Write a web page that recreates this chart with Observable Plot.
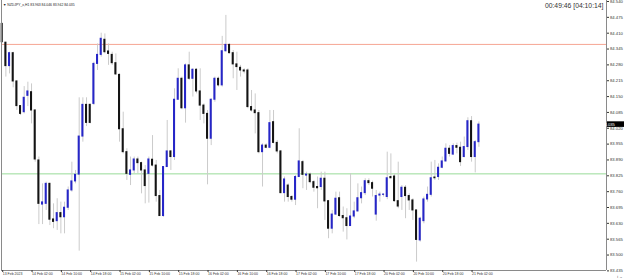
<!DOCTYPE html>
<html><head><meta charset="utf-8">
<script src="https://cdn.jsdelivr.net/npm/d3@7"></script>
<script src="https://cdn.jsdelivr.net/npm/@observablehq/plot@0.6"></script>
<style>
html,body{margin:0;padding:0;background:#fff;}
#chart{width:625px;height:280px;overflow:hidden;}
</style></head><body><div id="chart"></div>
<script>
const symbolTitle = "NZDJPY_x,H1";
const timerText = "00:49:46 [04:10:14]";
const open  = [84.448,84.371,84.275,84.328,84.212,84.111,84.086,84.153,84.168,84.093,83.888,83.707,83.710,83.792,83.646,83.639,83.672,83.655,83.694,83.765,83.802,83.830,83.986,84.116,84.116,84.120,84.284,84.321,84.383,84.335,84.321,84.287,84.239,84.016,83.922,83.829,83.847,83.892,83.877,83.847,83.833,83.891,83.867,83.742,83.660,83.861,83.925,83.902,84.137,84.223,84.102,84.278,84.223,84.260,84.171,84.113,84.079,83.977,84.137,84.223,84.196,84.336,84.362,84.328,84.282,84.268,84.257,84.257,84.107,84.093,84.082,83.922,83.949,83.940,84.045,83.960,83.925,83.754,83.785,83.738,83.727,83.820,83.881,83.826,83.830,83.799,83.779,83.779,83.813,83.721,83.608,83.666,83.733,83.660,83.651,83.619,83.658,83.679,83.733,83.754,83.803,83.795,83.666,83.744,83.747,83.738,83.820,83.822,83.721,83.738,83.776,83.742,83.724,83.683,83.560,83.639,83.728,83.747,83.818,83.820,83.858,83.884,83.936,83.912,83.947,83.940,83.902,83.943,84.049,83.902,83.963];
const high  = [84.451,84.373,84.332,84.332,84.216,84.113,84.191,84.209,84.202,84.096,83.902,83.792,83.799,83.795,83.710,83.731,83.717,83.717,83.779,83.881,83.847,84.145,84.145,84.145,84.120,84.291,84.366,84.410,84.407,84.366,84.332,84.325,84.243,84.086,83.936,83.902,83.902,83.902,83.881,83.867,83.902,83.990,83.888,83.765,83.861,84.052,83.929,84.182,84.264,84.230,84.284,84.332,84.264,84.264,84.264,84.120,84.093,84.141,84.230,84.230,84.397,84.483,84.366,84.339,84.332,84.278,84.264,84.264,84.175,84.161,84.093,83.956,83.956,84.093,84.093,83.970,83.929,83.820,83.792,83.744,83.826,84.018,83.888,83.840,83.836,83.806,83.820,83.840,83.840,83.724,83.683,83.758,83.758,83.697,83.690,83.833,83.717,83.792,83.779,83.813,83.813,83.803,83.765,83.758,83.751,83.922,83.915,83.833,83.881,83.785,83.785,83.751,83.731,83.683,83.655,83.738,83.779,83.881,83.888,83.874,83.902,83.956,83.949,83.956,83.959,83.963,83.984,84.063,84.068,83.970,84.046];
const low   = [84.371,84.230,84.243,84.186,84.093,84.072,84.079,84.109,84.038,83.881,83.625,83.625,83.683,83.621,83.608,83.601,83.587,83.587,83.683,83.758,83.792,83.516,83.963,84.027,84.038,84.113,84.257,84.312,84.325,84.278,84.278,84.237,83.963,83.915,83.806,83.785,83.833,83.833,83.751,83.710,83.713,83.861,83.717,83.658,83.655,83.861,83.847,83.888,84.134,84.096,84.041,84.216,84.148,84.161,84.052,84.038,83.788,83.949,84.127,84.189,84.189,84.332,84.325,84.223,84.175,84.230,84.243,84.100,84.086,83.997,83.915,83.779,83.936,83.936,83.956,83.915,83.751,83.717,83.717,83.717,83.703,83.820,83.772,83.765,83.792,83.758,83.690,83.765,83.642,83.567,83.587,83.662,83.655,83.594,83.562,83.617,83.649,83.676,83.710,83.744,83.785,83.738,83.639,83.717,83.738,83.727,83.813,83.717,83.690,83.683,83.649,83.683,83.642,83.471,83.553,83.628,83.717,83.738,83.806,83.806,83.854,83.881,83.902,83.908,83.915,83.863,83.899,83.929,83.881,83.837,83.942];
const close = [84.373,84.275,84.328,84.212,84.111,84.079,84.145,84.171,84.093,83.892,83.710,83.716,83.792,83.645,83.636,83.672,83.655,83.694,83.765,83.802,83.829,83.986,84.116,84.042,84.042,84.284,84.321,84.387,84.332,84.325,84.287,84.241,84.016,83.922,83.833,83.847,83.892,83.877,83.847,83.783,83.892,83.867,83.742,83.660,83.861,83.925,83.902,84.137,84.223,84.102,84.278,84.223,84.260,84.171,84.113,84.079,83.977,84.137,84.223,84.196,84.336,84.362,84.328,84.282,84.271,84.257,84.253,84.107,84.093,84.082,83.922,83.949,83.940,84.041,83.960,83.925,83.754,83.810,83.738,83.727,83.820,83.884,83.829,83.830,83.799,83.776,83.774,83.813,83.720,83.608,83.666,83.731,83.660,83.651,83.619,83.658,83.679,83.733,83.754,83.803,83.795,83.772,83.742,83.748,83.748,83.815,83.815,83.721,83.699,83.776,83.742,83.724,83.683,83.562,83.649,83.728,83.747,83.815,83.815,83.858,83.884,83.936,83.915,83.947,83.940,83.881,83.943,84.049,83.902,83.963,84.035];
const xTickIndex  = [0,8,16,24,32,40,48,56,64,72,80,88,96,104,112,120,128];
const xTickLabels = ["13 Feb 2023","14 Feb 02:00","14 Feb 10:00","14 Feb 18:00","15 Feb 02:00","15 Feb 10:00","15 Feb 18:00","16 Feb 02:00","16 Feb 10:00","16 Feb 18:00","17 Feb 02:00","17 Feb 10:00","17 Feb 18:00","20 Feb 02:00","20 Feb 10:00","20 Feb 18:00","21 Feb 02:00"];
const yTickValues = [84.540,84.475,84.410,84.345,84.280,84.215,84.150,84.085,84.020,83.955,83.890,83.825,83.760,83.695,83.630,83.565,83.500,83.435];
const levelHigh = 84.364;
const levelLow = 83.833;

const bars = open.map((o, i) => ({i, o, h: high[i], l: low[i], c: close[i], up: close[i] > o}));
const last = bars[bars.length - 1];
const header = "\u25BC " + symbolTitle + " " + [last.o, last.h, last.l, last.c].map(v => v.toFixed(3)).join(" ");
const labelMap = new Map(xTickIndex.map((d, k) => [d, xTickLabels[k]]));
const xDomain = [-0.19, 164.8];
const yDomain = [83.4366, 84.5441];

const plot = Plot.plot({
  width: 625, height: 280,
  marginTop: 0, marginLeft: 1, marginRight: 19, marginBottom: 10,
  x: {type: "linear", domain: xDomain, axis: null},
  y: {domain: yDomain, axis: null},
  color: {type: "identity"},
  style: {background: "#fff", fontFamily: "'Liberation Sans', Arial, sans-serif", overflow: "hidden"},
  marks: [
    Plot.ruleY([levelHigh], {stroke: "#f6a593", strokeWidth: 1}),
    Plot.ruleY([levelLow], {stroke: "#98dc98", strokeWidth: 1}),
    Plot.ruleX(bars, {x: "i", y1: "l", y2: "h", stroke: "#cbcbcb", strokeWidth: 1}),
    Plot.rect(bars, {x1: d => d.i - 0.28, x2: d => d.i + 0.28,
      y1: d => Math.min(d.o, d.c), y2: d => Math.max(d.o, d.c),
      fill: d => d.up ? "#2626c8" : "#141414", insetTop: -0.5, insetBottom: -0.5}),
    Plot.ruleX([xDomain[0], xDomain[1]], {stroke: "#8a8a8a"}),
    Plot.ruleY([yDomain[0]], {stroke: "#8a8a8a"}),
    Plot.axisY({anchor: "right", ticks: yTickValues, tickFormat: d => d.toFixed(3),
      tickSize: 2, tickPadding: 1.5, fontSize: 4.2, color: "#333"}),
    Plot.axisX({anchor: "bottom", ticks: xTickIndex, tickFormat: d => labelMap.get(d),
      tickSize: 2, tickPadding: 0, fontSize: 3.5, textAnchor: "start", dx: 0.5, color: "#333"}),
    Plot.text([header], {frameAnchor: "top-left", dx: 1.5, dy: 3, fontSize: 3.4, textAnchor: "start", lineAnchor: "top", fill: "#222"}),
    Plot.text([timerText], {frameAnchor: "top-right", dx: -3, dy: 2.5, fontSize: 6.8, textAnchor: "end", lineAnchor: "top", fill: "#333"})
  ]
});

// current price marker on the right axis, placed through the plot's own scales
const svg = d3.select(plot);
const yPos = plot.scale("y").apply(last.c);
const xEdge = plot.scale("x").apply(xDomain[1]);
const g = svg.append("g");
g.append("rect").attr("x", xEdge + 1).attr("y", yPos - 2.8).attr("width", 17).attr("height", 5.6).attr("fill", "#000");
g.append("text").attr("x", xEdge + 2.5).attr("y", yPos).attr("dy", "0.35em").attr("font-size", 4.2)
  .attr("fill", "#fff").text(last.c.toFixed(3));

document.getElementById("chart").appendChild(plot);
</script>
</body></html>
